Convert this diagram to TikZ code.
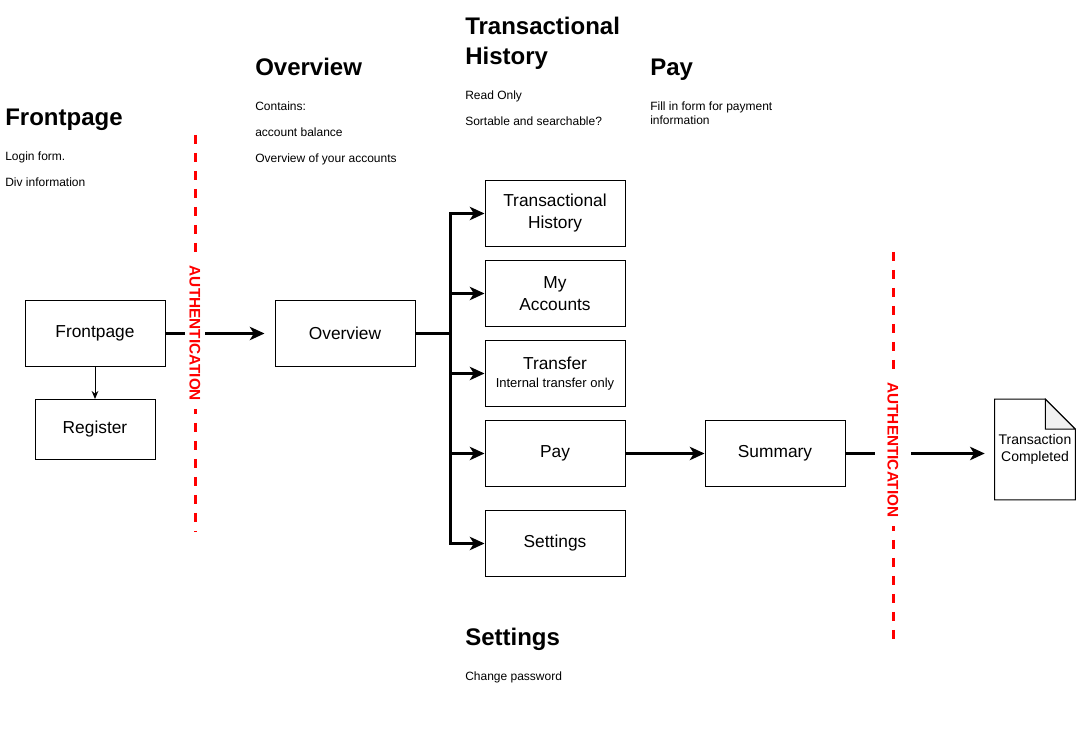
\documentclass[tikz,border=0pt]{standalone}
\usepackage{fontspec}
\setmainfont{Liberation Sans}
\usetikzlibrary{arrows.meta,positioning}
\definecolor{authred}{rgb}{1,0,0}
\definecolor{foldgray}{RGB}{241,241,241}
\tikzset{
    box/.style={
           rectangle,
           draw=black, line width=0.75pt,
           minimum width=105pt,
           minimum height=49.5pt,
           inner sep=0pt,
           align=center,
           font=\fontsize{13}{16.5}\selectfont,
           },
    heading/.style={anchor=base west, inner sep=0pt, align=left,
           font=\fontsize{18}{22.5}\selectfont\bfseries},
    note/.style={anchor=base west, inner sep=0pt, align=left,
           font=\fontsize{9}{19.5}\selectfont},
    flow/.style={line width=2.25pt, -{Stealth[length=11pt,width=10pt,inset=3pt]}},
    auth/.style={draw=authred, line width=2.25pt, dash pattern=on 6.75pt off 6.75pt},
    authlabel/.style={rotate=-90, fill=white, text=authred, inner xsep=6pt,
           inner ysep=3.5pt, font=\fontsize{11.5}{12}\selectfont\bfseries},
}
\newcommand{\subline}[1]{{\fontsize{9.75}{12}\selectfont #1}}

\begin{document}
\begin{tikzpicture}[x=0.75pt, y=-0.75pt]
  \useasboundingbox (0,0) rectangle (1076,741);
  \fill[white] (0,0) rectangle (1076,741);
  % headings and notes (base = last line)
  \node[heading] (hF)  at (5,126)   {Frontpage};
  \node[note]    (nF)  at (5,187)   {Login form.\\Div information};
  \node[heading] (hO)  at (255,76)  {Overview};
  \node[note]    (nO)  at (255,163) {Contains:\\account balance\\Overview of your accounts};
  \node[heading] (hTH) at (465,65)  {Transactional\\History};
  \node[note]    (nTH) at (465,126) {Read Only\\Sortable and searchable?};
  \node[heading] (hP)  at (650,76)  {Pay};
  \node[note, font=\fontsize{9}{10.5}\selectfont] (nP) at (650,125) {Fill in form for payment\\information};
  \node[heading] (hS)  at (465,646) {Settings};
  \node[note]    (nS)  at (465,681) {Change password};
  % pages
  \node[box]                                     (F)  at (95,333.5)  {Frontpage};
  \node[box, minimum width=90pt, minimum height=45pt] (R)  at (95,429.5)  {Register};
  \node[box]                                     (O)  at (345,333.5) {Overview};
  \node[box]                                     (TH) at (555,213.5) {Transactional\\History};
  \node[box]                                     (MA) at (555,293.5) {My\\Accounts};
  \node[box]                                     (T)  at (555,373.5) {Transfer\\[-3pt]\subline{Internal transfer only}};
  \node[box]                                     (P)  at (555,453.5) {Pay};
  \node[box]                                     (S)  at (555,543.5) {Settings};
  \node[box]                                     (Su) at (775,453.5) {Summary};
  \node[inner sep=0pt, minimum width=60pt, minimum height=75pt, align=center,
        font=\fontsize{10.5}{12.75}\selectfont]  (D)  at (1035,449.5) {Transaction\\Completed};
  \draw[line width=0.75pt] (D.south west) -- (D.north west) -- ([xshift=-22.5pt]D.north east)
        -- ([yshift=-22.5pt]D.north east) -- (D.south east) -- cycle;
  \draw[line width=0.75pt, fill=foldgray] ([xshift=-22.5pt]D.north east)
        -- ([xshift=-22.5pt, yshift=-22.5pt]D.north east) -- ([yshift=-22.5pt]D.north east) -- cycle;
  % connectors
  \coordinate (J) at (450,333.5);
  \draw[line width=0.75pt, -{Stealth[length=6pt,width=5pt]}] (F) -- (R);
  \draw[flow, shorten >=7.5pt] (F) -- (O);
  \draw[line width=2.25pt] (O) -- (J);
  \foreach \n in {TH,MA,T,P,S}
    \draw[flow] (J) |- (\n);
  \draw[flow] (P) -- (Su);
  \draw[flow, shorten >=7.5pt] (Su) -- (Su -| D.west);
  % authentication borders
  \coordinate (a1t) at (195,135);
  \coordinate (a1b) at (195,532);
  \coordinate (a2t) at (893,252);
  \coordinate (a2b) at (893,648);
  \draw[auth] (a1t) -- (a1b) node[midway, authlabel] {AUTHENTICATION};
  \draw[auth] (a2t) -- (a2b) node[midway, authlabel, inner ysep=9.5pt] {AUTHENTICATION};
\end{tikzpicture}
\end{document}
